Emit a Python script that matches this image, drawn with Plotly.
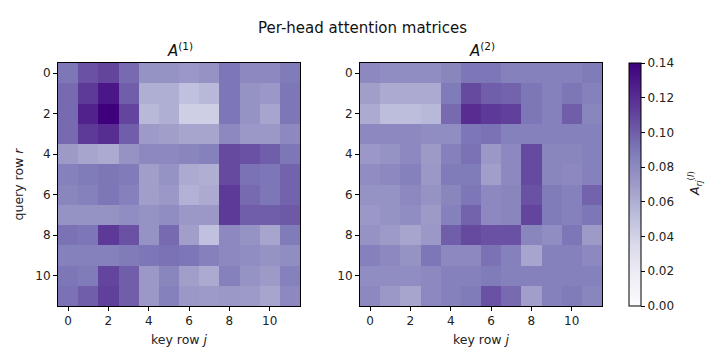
import plotly.graph_objects as go

idx = list(range(12))
tick_vals = [0, 2, 4, 6, 8, 10]
cbar_ticks = [0.00, 0.02, 0.04, 0.06, 0.08, 0.10, 0.12, 0.14]

head1 = [
    [0.090, 0.105, 0.110, 0.095, 0.075, 0.075, 0.072, 0.075, 0.090, 0.080, 0.080, 0.088],
    [0.095, 0.115, 0.130, 0.100, 0.060, 0.060, 0.050, 0.055, 0.090, 0.075, 0.072, 0.090],
    [0.095, 0.125, 0.140, 0.110, 0.055, 0.060, 0.042, 0.042, 0.090, 0.075, 0.065, 0.090],
    [0.095, 0.115, 0.120, 0.100, 0.070, 0.068, 0.065, 0.065, 0.080, 0.072, 0.072, 0.080],
    [0.070, 0.065, 0.062, 0.075, 0.080, 0.080, 0.082, 0.085, 0.108, 0.105, 0.100, 0.090],
    [0.085, 0.088, 0.090, 0.088, 0.068, 0.075, 0.062, 0.060, 0.108, 0.092, 0.090, 0.098],
    [0.082, 0.085, 0.090, 0.085, 0.068, 0.072, 0.058, 0.062, 0.115, 0.095, 0.090, 0.098],
    [0.075, 0.075, 0.075, 0.078, 0.075, 0.078, 0.072, 0.072, 0.115, 0.100, 0.100, 0.102],
    [0.092, 0.090, 0.115, 0.105, 0.075, 0.095, 0.068, 0.050, 0.080, 0.075, 0.065, 0.088],
    [0.085, 0.085, 0.085, 0.088, 0.090, 0.092, 0.090, 0.085, 0.080, 0.078, 0.075, 0.078],
    [0.090, 0.088, 0.110, 0.100, 0.072, 0.082, 0.068, 0.062, 0.085, 0.075, 0.070, 0.085],
    [0.092, 0.100, 0.112, 0.100, 0.072, 0.085, 0.072, 0.070, 0.072, 0.070, 0.065, 0.080],
]

head2 = [
    [0.080, 0.078, 0.078, 0.078, 0.082, 0.090, 0.090, 0.085, 0.085, 0.085, 0.085, 0.088],
    [0.068, 0.062, 0.062, 0.062, 0.088, 0.108, 0.100, 0.098, 0.090, 0.085, 0.090, 0.085],
    [0.062, 0.052, 0.052, 0.055, 0.095, 0.120, 0.115, 0.112, 0.090, 0.085, 0.100, 0.082],
    [0.080, 0.080, 0.080, 0.078, 0.078, 0.090, 0.092, 0.085, 0.085, 0.085, 0.085, 0.085],
    [0.072, 0.075, 0.080, 0.070, 0.085, 0.092, 0.072, 0.080, 0.108, 0.082, 0.082, 0.085],
    [0.078, 0.080, 0.085, 0.072, 0.088, 0.088, 0.068, 0.080, 0.108, 0.082, 0.080, 0.085],
    [0.075, 0.075, 0.080, 0.075, 0.082, 0.090, 0.080, 0.082, 0.105, 0.088, 0.085, 0.098],
    [0.072, 0.075, 0.078, 0.070, 0.085, 0.098, 0.080, 0.082, 0.110, 0.088, 0.085, 0.090],
    [0.075, 0.070, 0.065, 0.072, 0.100, 0.108, 0.105, 0.105, 0.082, 0.078, 0.090, 0.070],
    [0.085, 0.080, 0.075, 0.090, 0.080, 0.080, 0.092, 0.085, 0.065, 0.085, 0.085, 0.080],
    [0.078, 0.078, 0.078, 0.080, 0.085, 0.085, 0.088, 0.085, 0.085, 0.085, 0.085, 0.085],
    [0.080, 0.072, 0.065, 0.080, 0.085, 0.088, 0.105, 0.095, 0.068, 0.085, 0.088, 0.082],
]

W, H = 721, 360
FONT = "DejaVu Sans"

def px_x(v):
    return v / W

def px_y(v):
    return 1 - v / H

y_dom = [px_y(306), px_y(63)]

fig = go.Figure()
fig.add_trace(go.Heatmap(z=head1, x=idx, y=idx, coloraxis="coloraxis",
                         xaxis="x", yaxis="y"))
fig.add_trace(go.Heatmap(z=head2, x=idx, y=idx, coloraxis="coloraxis",
                         xaxis="x2", yaxis="y2"))

axis_common = dict(
    tickvals=tick_vals, ticks="outside", ticklen=4,
    tickwidth=1, tickcolor="black", showline=True, linecolor="black",
    linewidth=1, mirror=True, showgrid=False, zeroline=False,
    tickfont=dict(family=FONT, size=12, color="#222"),
)

fig.update_layout(
    width=W, height=H,
    margin=dict(l=0, r=0, t=0, b=0),
    paper_bgcolor="white", plot_bgcolor="white",
    font=dict(family=FONT, color="#222"),
    xaxis=dict(domain=[px_x(58), px_x(300)], anchor="y", range=[-0.5, 11.5],
               title=dict(text="key row <i>j</i>", font=dict(size=12.5), standoff=7),
               **axis_common),
    yaxis=dict(domain=y_dom, anchor="x", range=[11.5, -0.5],
               title=dict(text="query row <i>r</i>", font=dict(size=12.5), standoff=8),
               **axis_common),
    xaxis2=dict(domain=[px_x(360), px_x(602)], anchor="y2", range=[-0.5, 11.5],
                title=dict(text="key row <i>j</i>", font=dict(size=12.5), standoff=7),
                **axis_common),
    yaxis2=dict(domain=y_dom, anchor="x2", range=[11.5, -0.5],
                **axis_common),
    coloraxis=dict(
        colorscale="Purples", cmin=0, cmax=0.14,
        colorbar=dict(
            x=px_x(629), xanchor="left", y=px_y(306), yanchor="bottom",
            len=(306 - 63) / H, lenmode="fraction",
            xpad=0, ypad=0,
            thickness=12, thicknessmode="pixels",
            outlinecolor="black", outlinewidth=1,
            tickvals=cbar_ticks, tickformat=".2f", ticks="outside",
            ticklen=4, tickcolor="black",
            tickfont=dict(family=FONT, size=12, color="#222"),
        ),
    ),
    annotations=[
        dict(text="Per-head attention matrices", x=px_x(362), y=px_y(28),
             xref="paper", yref="paper", showarrow=False,
             font=dict(size=15, family=FONT, color="#111"),
             xanchor="center", yanchor="middle"),
        dict(text="<i>A</i><sup>(1)</sup>", x=px_x(180), y=px_y(50),
             xref="paper", yref="paper", showarrow=False,
             font=dict(size=15, family=FONT, color="#111"),
             xanchor="center", yanchor="middle"),
        dict(text="<i>A</i><sup>(2)</sup>", x=px_x(482), y=px_y(50),
             xref="paper", yref="paper", showarrow=False,
             font=dict(size=15, family=FONT, color="#111"),
             xanchor="center", yanchor="middle"),
        dict(text="<i>A</i><sub><i>rj</i></sub><sup>(<i>l</i>)</sup>",
             x=px_x(695), y=px_y(184), xref="paper", yref="paper",
             showarrow=False, textangle=-90,
             font=dict(size=12.5, family=FONT, color="#222"),
             xanchor="center", yanchor="middle"),
    ],
)

fig.write_html("out.html", config={"displayModeBar": False},
               post_script="document.body.style.margin='0';")
